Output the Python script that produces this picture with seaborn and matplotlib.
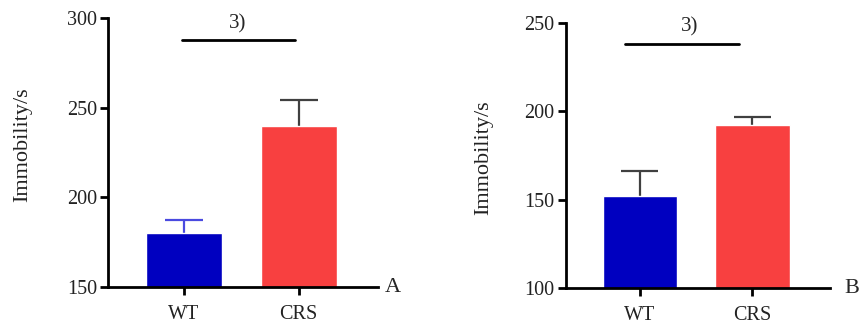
import matplotlib
matplotlib.use("Agg")
import matplotlib.pyplot as plt
import seaborn as sns
import pandas as pd

sns.set_theme(style="ticks")
plt.rcParams['font.family'] = ['Liberation Serif', 'DejaVu Serif']

groups = ["WT", "CRS"]
a_mean = [180, 240]
a_err = [7.5, 14.5]
b_mean = [152, 192]
b_err = [14.5, 5]
bar_colors = ["#0000C0", "#F84040"]
err_colors_a = ["#4A4AE0", "#404040"]
err_colors_b = ["#404040", "#404040"]

fig = plt.figure(figsize=(8.61, 3.28), dpi=100)
axA = fig.add_axes([0.1254, 0.125, 0.3136, 0.820])
axB = fig.add_axes([0.657, 0.121, 0.307, 0.810])

def panel(ax, means, errs, errcols, ylim, yticks, sig_y, sig_x, txt_x, txt_y, letter_x, letter):
    df = pd.DataFrame({"group": groups, "value": means})
    sns.barplot(data=df, x="group", y="value", hue="group", palette=bar_colors,
                width=0.66, ax=ax, legend=False, errorbar=None, saturation=1)
    for p in ax.patches:
        p.set_zorder(2)
    for i in range(len(groups)):
        top = means[i] + errs[i]
        ax.vlines(i, means[i], top, colors=errcols[i], lw=1.6, zorder=1)
        ax.hlines(top, i - 0.165, i + 0.165, colors=errcols[i], lw=1.6, zorder=1)
    ax.set_ylim(*ylim)
    ax.set_yticks(yticks)
    ax.set_xlim(-0.66, 1.69)
    ax.set_xlabel("")
    ax.set_ylabel("Immobility/s", fontsize=16, color="#222222")
    sns.despine(ax=ax)
    for s in ["left", "bottom"]:
        ax.spines[s].set_linewidth(2)
        ax.spines[s].set_color("black")
    ax.tick_params(axis="both", direction="out", length=6, width=2, labelsize=14.5,
                   colors="black", labelcolor="#222222")
    ax.tick_params(axis="y", pad=2)
    ax.tick_params(axis="x", pad=7)
    ax.plot(sig_x, [sig_y, sig_y], color="black", lw=2, clip_on=False)
    ax.text(txt_x, txt_y, "3)", ha="center", va="center", fontsize=15, clip_on=False)
    ax.text(letter_x, ylim[0], letter, ha="center", va="center", fontsize=16, clip_on=False)

panel(axA, a_mean, a_err, err_colors_a, (150, 300), [150, 200, 250, 300],
      288, [-0.02, 0.97], 0.47, 296.5, 1.82, "A")
panel(axB, b_mean, b_err, err_colors_b, (100, 250), [100, 150, 200, 250],
      238, [-0.13, 0.88], 0.44, 247.5, 1.88, "B")
axA.yaxis.set_label_coords(-0.28, 0.53)
axB.yaxis.set_label_coords(-0.275, 0.49)

fig.savefig("out.png", dpi=100)
